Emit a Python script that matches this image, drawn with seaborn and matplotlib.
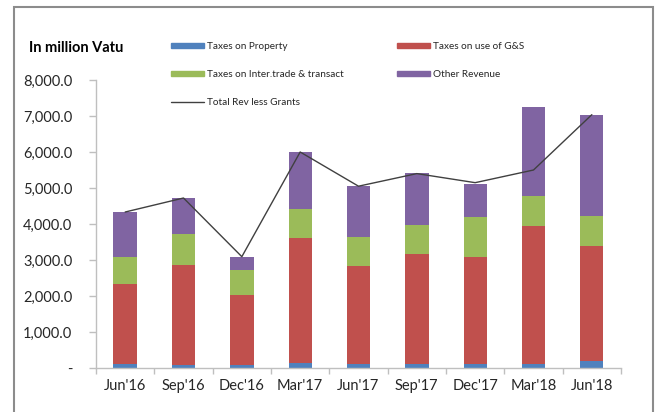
import numpy as np
import pandas as pd
import matplotlib
matplotlib.use("Agg")
import matplotlib.pyplot as plt
import matplotlib.patches as mpatches
from matplotlib.lines import Line2D
from matplotlib.ticker import FuncFormatter, FixedLocator
import seaborn as sns

# ---- data ----
quarters = ["Jun'16", "Sep'16", "Dec'16", "Mar'17", "Jun'17", "Sep'17", "Dec'17", "Mar'18", "Jun'18"]
taxes_property = [100, 95, 95, 135, 120, 120, 120, 125, 195]
taxes_gs = [2242, 2775, 1933, 3485, 2723, 3037, 2963, 3819, 3185]
taxes_trade = [750, 852, 703, 787, 805, 815, 1111, 843, 842]
other_revenue = [1241, 1000, 361, 1593, 1398, 1435, 926, 2454, 2815]
total_rev_less_grants = [4333, 4722, 3092, 6000, 5050, 5400, 5148, 5500, 7037]
yticks = [0, 1000, 2000, 3000, 4000, 5000, 6000, 7000, 8000]

series_names = ["Taxes on Property", "Taxes on use of G&S",
                "Taxes on Inter.trade & transact", "Other Revenue"]
series_vals = [taxes_property, taxes_gs, taxes_trade, other_revenue]
colors = ["#4F81BD", "#C0504D", "#9BBB59", "#8064A2"]

sns.set_theme(style="white")
plt.rcParams["font.family"] = ["Lato", "DejaVu Sans"]

W, H = 656, 412
fig = plt.figure(figsize=(W / 100, H / 100), dpi=100)
ax = fig.add_axes([96 / W, 1 - 368 / H, 525 / W, 288 / H])

# stacked bars: draw cumulative tops from tallest layer down
cum = np.cumsum(np.array(series_vals, dtype=float), axis=0)
for i in range(len(series_vals) - 1, -1, -1):
    df = pd.DataFrame({"quarter": quarters, "value": cum[i]})
    sns.barplot(data=df, x="quarter", y="value", color=colors[i], width=0.4,
                saturation=1, errorbar=None, ax=ax, linewidth=0, order=quarters)

sns.lineplot(x=np.arange(len(quarters)), y=total_rev_less_grants, color="#404040",
             linewidth=1.0, ax=ax, legend=False)

ax.set_xlim(-0.5, len(quarters) - 0.5)
ax.set_ylim(0, 8000)
ax.set_xlabel("")
ax.set_ylabel("")

ax.yaxis.set_major_locator(FixedLocator(yticks))
ax.yaxis.set_major_formatter(FuncFormatter(lambda v, p: "-" if v == 0 else f"{v:,.1f}"))

for side in ["top", "right"]:
    ax.spines[side].set_visible(False)
for side in ["left", "bottom"]:
    ax.spines[side].set_visible(True)
    ax.spines[side].set_color("#BFBFBF")
    ax.spines[side].set_linewidth(1.0)

ax.tick_params(axis="y", which="major", left=True, length=5, width=1, color="#BFBFBF",
               direction="out", pad=12, labelsize=10.5, labelcolor="#262626")
ax.tick_params(axis="x", which="major", bottom=False, length=0, pad=8,
               labelsize=10.5, labelcolor="#262626")
ax.set_xticks(np.arange(-0.5, len(quarters), 1.0), minor=True)
ax.tick_params(axis="x", which="minor", bottom=True, length=4, width=1, color="#BFBFBF",
               direction="out")

# title
fig.text(29 / W, 1 - 48 / H, "In million Vatu", fontsize=10.5, fontweight="bold",
         ha="left", va="center", color="#000000")

# legend
handles = [
    mpatches.Patch(color=colors[0], label=series_names[0]),
    mpatches.Patch(color=colors[2], label=series_names[2]),
    Line2D([0], [0], color="#404040", lw=1.0, label="Total Rev less Grants"),
    mpatches.Patch(color=colors[1], label=series_names[1]),
    mpatches.Patch(color=colors[3], label=series_names[3]),
]
leg = fig.legend(handles=handles, ncol=2, loc="upper left",
                 bbox_to_anchor=(171 / W, 1 - 42 / H), bbox_transform=fig.transFigure,
                 frameon=False, fontsize=7.2, handlelength=3.3, handleheight=0.5,
                 handletextpad=0.3, labelspacing=1.9, columnspacing=5.3,
                 borderpad=0, borderaxespad=0)
for t in leg.get_texts():
    t.set_color("#262626")

# outer frame
frame = mpatches.Rectangle((14 / W, -0.05), (653 - 14) / W, 1.05 - 7 / H,
                           transform=fig.transFigure, fill=False,
                           edgecolor="#8C8C8C", linewidth=1.5)
fig.patches.append(frame)

fig.savefig("out.png", dpi=100)
